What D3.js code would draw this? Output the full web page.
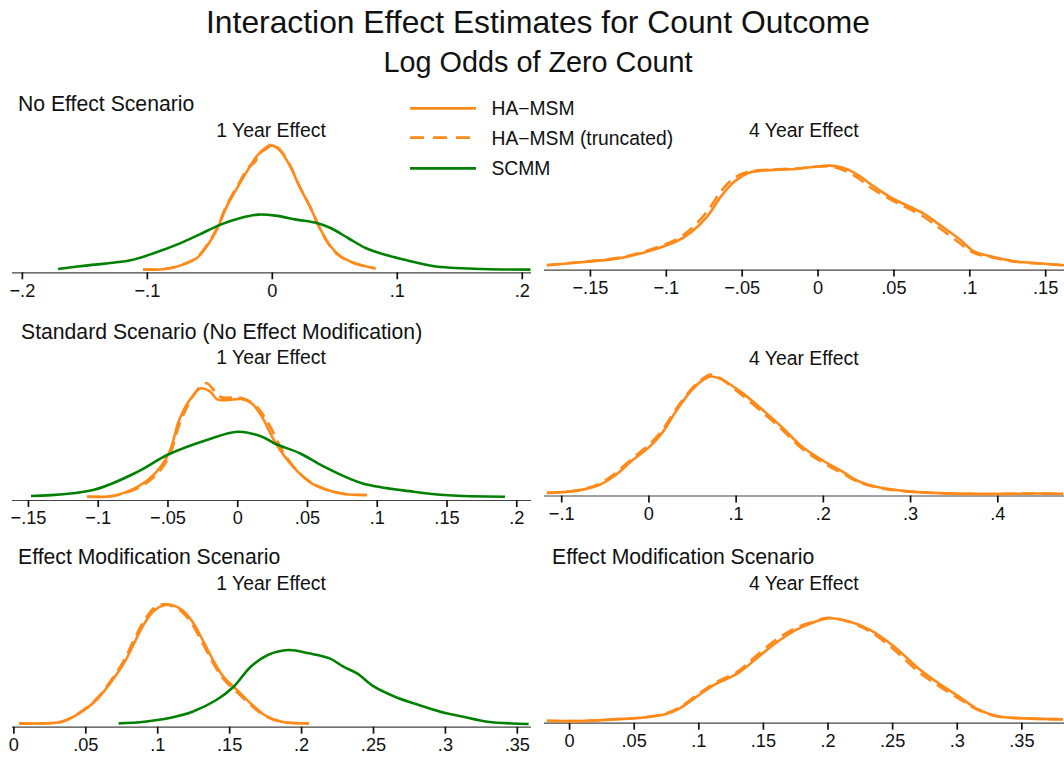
<!DOCTYPE html>
<html><head><meta charset="utf-8">
<script src="https://cdn.jsdelivr.net/npm/d3@7"></script>
<style>
body{margin:0;background:#fff}
svg{display:block}
text{font-family:"Liberation Sans",Arial,Helvetica,sans-serif;fill:#111}
</style>
</head><body>
<svg id="chart" width="1064" height="757"></svg>
<script>
// ---------------- DATA ----------------
const chartTitle = "Interaction Effect Estimates for Count Outcome";
const chartSubtitle = "Log Odds of Zero Count";
const seriesNames = ["HA\u2212MSM", "HA\u2212MSM (truncated)", "SCMM"];
const scenarioTitles = ["No Effect Scenario", "Standard Scenario (No Effect Modification)", "Effect Modification Scenario"];
const effectTitles = ["1 Year Effect", "4 Year Effect"];

// tick values per panel
const ticksNoEff1 = [-0.2, -0.1, 0, 0.1, 0.2];
const ticksNoEff4 = [-0.15, -0.1, -0.05, 0, 0.05, 0.1, 0.15];
const ticksStd1 = [-0.15, -0.1, -0.05, 0, 0.05, 0.1, 0.15, 0.2];
const ticksStd4 = [-0.1, 0, 0.1, 0.2, 0.3, 0.4];
const ticksMod1 = [0, 0.05, 0.1, 0.15, 0.2, 0.25, 0.3, 0.35];
const ticksMod4 = [0, 0.05, 0.1, 0.15, 0.2, 0.25, 0.3, 0.35];

// kernel density estimates: [estimate, density]
const noEff1_msm = [[-0.103,0.27],[-0.085,0.33],[-0.071,0.77],[-0.060,1.43],[-0.052,2.6],[-0.044,4.27],[-0.036,6.6],[-0.027,8.6],[-0.019,10.27],[-0.011,11.77],[-0.0054,12.27],[0.0,12.67],[0.0058,12.27],[0.014,10.77],[0.022,8.6],[0.031,6.43],[0.039,4.27],[0.047,2.6],[0.055,1.6],[0.066,0.93],[0.083,0.37]];
const noEff1_trunc = [[-0.103,0.27],[-0.085,0.35],[-0.071,0.8],[-0.060,1.5],[-0.052,2.7],[-0.044,4.4],[-0.036,6.75],[-0.027,8.75],[-0.019,10.45],[-0.013,11.1],[-0.011,11.8],[-0.0054,12.4],[0.0,12.8],[0.0058,12.35],[0.014,10.85],[0.022,8.65],[0.031,6.45],[0.039,4.25],[0.047,2.55],[0.055,1.55],[0.066,0.9],[0.083,0.37]];
const noEff1_scmm = [[-0.171,0.33],[-0.149,0.67],[-0.113,1.2],[-0.094,1.93],[-0.074,2.87],[-0.058,3.77],[-0.041,4.77],[-0.025,5.43],[-0.011,5.77],[0.003,5.67],[0.0195,5.27],[0.036,4.93],[0.047,4.43],[0.061,3.43],[0.075,2.43],[0.086,1.93],[0.108,1.2],[0.130,0.6],[0.169,0.33],[0.207,0.27]];

const noEff4_msm = [[-0.1784,0.27],[-0.1559,0.46],[-0.1334,0.67],[-0.1154,1.04],[-0.0929,1.77],[-0.0839,2.29],[-0.0726,3.33],[-0.0636,4.58],[-0.0546,5.52],[-0.0457,6.04],[-0.0367,6.19],[-0.0142,6.29],[0.0083,6.5],[0.0173,6.35],[0.0263,5.94],[0.0353,5.31],[0.0488,4.48],[0.0578,4.06],[0.0691,3.54],[0.0803,2.81],[0.0938,1.88],[0.1028,1.15],[0.1141,0.83],[0.1298,0.52],[0.1478,0.38],[0.1624,0.27]];
const noEff4_trunc = [[-0.1784,0.28],[-0.1559,0.48],[-0.1334,0.7],[-0.1154,1.1],[-0.0929,1.9],[-0.0839,2.5],[-0.0726,3.65],[-0.0636,4.9],[-0.0546,5.75],[-0.0457,6.12],[-0.0367,6.22],[-0.0142,6.32],[0.0083,6.45],[0.0173,6.2],[0.0263,5.75],[0.0353,5.1],[0.0488,4.35],[0.0578,3.92],[0.0691,3.35],[0.0803,2.6],[0.0938,1.65],[0.1028,1.05],[0.1141,0.78],[0.1298,0.5],[0.1478,0.37],[0.1624,0.27]];

const std1_msm = [[-0.1077,0.33],[-0.0885,0.43],[-0.0712,1.33],[-0.0589,2.67],[-0.049,4.67],[-0.0416,8.0],[-0.0341,10.0],[-0.026,11.17],[-0.0194,10.83],[-0.0144,10.07],[-0.007,10.0],[0.0029,10.1],[0.0103,9.67],[0.0177,8.33],[0.0276,5.67],[0.04,3.33],[0.0523,1.77],[0.0646,1.0],[0.077,0.6],[0.093,0.5]];
const std1_trunc = [[-0.1077,0.33],[-0.0885,0.43],[-0.0712,1.2],[-0.0589,2.4],[-0.049,4.3],[-0.0416,7.5],[-0.0341,9.8],[-0.0268,11.3],[-0.0218,11.67],[-0.0169,11.0],[-0.0119,10.3],[0.0029,10.2],[0.0128,9.5],[0.0226,7.6],[0.0325,4.9],[0.0424,3.0],[0.0523,1.8],[0.0646,1.0],[0.077,0.6],[0.093,0.5]];
const std1_scmm = [[-0.1478,0.4],[-0.1033,1.0],[-0.0712,2.83],[-0.0502,4.5],[-0.0218,6.0],[0.0004,6.83],[0.0177,6.33],[0.0276,5.6],[0.0449,4.67],[0.0622,3.33],[0.0894,1.67],[0.1264,0.83],[0.1511,0.47],[0.1919,0.33]];

const std4_msm = [[-0.1164,0.13],[-0.0851,0.22],[-0.0578,0.5],[-0.0383,1.0],[-0.0187,1.75],[0.0008,2.42],[0.0164,3.17],[0.0321,4.25],[0.0477,5.17],[0.0594,5.67],[0.0711,5.95],[0.0828,5.83],[0.1063,5.17],[0.1297,4.33],[0.1531,3.42],[0.1766,2.42],[0.2,1.75],[0.2235,1.17],[0.239,0.75],[0.2625,0.42],[0.2938,0.22],[0.3328,0.12],[0.372,0.08],[0.411,0.08],[0.442,0.1],[0.4755,0.08]];
const std4_trunc = [[-0.1164,0.13],[-0.0851,0.23],[-0.0578,0.55],[-0.0383,1.1],[-0.0187,1.85],[0.0008,2.55],[0.0164,3.3],[0.0321,4.35],[0.0477,5.25],[0.0594,5.75],[0.0711,6.05],[0.0828,5.85],[0.1063,5.05],[0.1297,4.2],[0.1531,3.3],[0.1766,2.32],[0.2,1.65],[0.2235,1.08],[0.239,0.7],[0.2625,0.4],[0.2938,0.22],[0.3328,0.12],[0.372,0.08],[0.411,0.08],[0.442,0.1],[0.4755,0.08]];

const mod1_msm = [[0.004,0.44],[0.0195,0.44],[0.0339,0.67],[0.0458,1.78],[0.0577,3.56],[0.0672,5.78],[0.0768,8.44],[0.0839,11.1],[0.0911,13.78],[0.0983,15.56],[0.1054,16.22],[0.1102,16.22],[0.1173,15.56],[0.1245,14.0],[0.1316,11.56],[0.1388,8.89],[0.1459,6.67],[0.1555,4.89],[0.165,3.11],[0.1746,1.56],[0.1865,0.67],[0.2055,0.44]];
const mod1_trunc = [[0.004,0.44],[0.0195,0.44],[0.0339,0.7],[0.0458,1.85],[0.0577,3.7],[0.0672,6.0],[0.0768,8.8],[0.0839,11.6],[0.0911,14.2],[0.0983,15.9],[0.1054,16.35],[0.1102,16.1],[0.1173,15.3],[0.1245,13.6],[0.1316,11.1],[0.1388,8.5],[0.1459,6.4],[0.1555,4.6],[0.165,2.9],[0.1746,1.45],[0.1865,0.64],[0.2055,0.44]];
const mod1_scmm = [[0.0732,0.44],[0.0911,0.67],[0.1102,1.24],[0.1245,2.0],[0.1411,3.56],[0.1531,5.33],[0.165,8.0],[0.1769,9.56],[0.1913,10.22],[0.2055,9.78],[0.2199,9.11],[0.2294,8.0],[0.2389,7.11],[0.2508,5.33],[0.2652,4.0],[0.2819,2.89],[0.301,1.78],[0.3129,1.33],[0.3296,0.67],[0.3582,0.36]];

const mod4_msm = [[-0.0172,0.125],[0.0092,0.1],[0.0355,0.21],[0.0567,0.31],[0.0751,0.54],[0.0857,0.9],[0.0988,1.63],[0.112,2.35],[0.1305,3.08],[0.1437,3.92],[0.1595,4.96],[0.1753,5.79],[0.1885,6.25],[0.2003,6.52],[0.2175,6.31],[0.2333,5.79],[0.2517,4.75],[0.2702,3.4],[0.286,2.46],[0.3018,1.63],[0.315,0.9],[0.3308,0.42],[0.352,0.27],[0.3822,0.21]];
const mod4_trunc = [[-0.0172,0.125],[0.0092,0.1],[0.0355,0.22],[0.0567,0.33],[0.0751,0.58],[0.0857,0.97],[0.0988,1.72],[0.112,2.45],[0.1305,3.2],[0.1437,4.1],[0.1595,5.15],[0.1753,5.92],[0.1885,6.3],[0.2003,6.55],[0.2175,6.28],[0.2333,5.68],[0.2517,4.55],[0.2702,3.2],[0.286,2.3],[0.3018,1.5],[0.315,0.85],[0.3308,0.4],[0.352,0.27],[0.3822,0.21]];

// ---------------- LAYOUT / STYLE ----------------
const W = 1064, H = 757;
const colOrange = "#ff8a1a", colGreen = "#008000";
const lineW = 2.6;
const plotH = 132;

const panels = [
  {row:0,col:0, scen:scenarioTitles[0], eff:effectTitles[0], dom:[-0.2083,0.207], ticks:ticksNoEff1, yMax:13.2, axisY:272.3, scenY:110.5, effY:136.5,
   series:[noEff1_msm, noEff1_trunc, noEff1_scmm]},
  {row:0,col:1, scen:null, eff:effectTitles[1], dom:[-0.1806,0.1624], ticks:ticksNoEff4, yMax:8.25, axisY:269.6, effY:137,
   series:[noEff4_msm, noEff4_trunc, null]},
  {row:1,col:0, scen:scenarioTitles[1], eff:effectTitles[0], dom:[-0.1618,0.2102], ticks:ticksStd1, yMax:13.2, axisY:500, scenY:339, effY:363.5, scenX:21,
   series:[std1_msm, std1_trunc, std1_scmm]},
  {row:1,col:1, scen:null, eff:effectTitles[1], dom:[-0.1203,0.4765], ticks:ticksStd4, yMax:6.6, axisY:495.5, effY:365,
   series:[std4_msm, std4_trunc, null]},
  {row:2,col:0, scen:scenarioTitles[2], eff:effectTitles[0], dom:[-0.0013,0.3595], ticks:ticksMod1, yMax:17.6, axisY:726.7, scenY:564, effY:590,
   series:[mod1_msm, mod1_trunc, mod1_scmm]},
  {row:2,col:1, scen:scenarioTitles[2], eff:effectTitles[1], dom:[-0.0198,0.383], ticks:ticksMod4, yMax:8.25, axisY:722.7, scenY:564, effY:590,
   series:[mod4_msm, mod4_trunc, null]}
];
const colX = [[11.5,530.5],[543.5,1064]];

const fmtTick = v => {
  if (v === 0) return "0";
  let s = String(+v.toFixed(3));
  s = s.replace("0.", ".").replace("-", "\u2212");
  return s;
};

const svg = d3.select("#chart");
svg.append("rect").attr("width",W).attr("height",H).attr("fill","#fff");

svg.append("text").attr("x",538).attr("y",32.5).attr("text-anchor","middle")
  .attr("font-size",31.8).text(chartTitle);
svg.append("text").attr("x",538).attr("y",72).attr("text-anchor","middle")
  .attr("font-size",28.8).text(chartSubtitle);

const styles = [
  {stroke:colOrange, dash:null},
  {stroke:colOrange, dash:"13,7"},
  {stroke:colGreen, dash:null}
];

panels.forEach(p => {
  const [x0,x1] = colX[p.col];
  const x = d3.scaleLinear().domain(p.dom).range([x0,x1]);
  const y = d3.scaleLinear().domain([0,p.yMax]).range([p.axisY, p.axisY - plotH]);
  const g = svg.append("g");

  const axis = d3.axisBottom(x).tickValues(p.ticks).tickFormat(fmtTick)
    .tickSize(7).tickSizeOuter(0).tickPadding(4.5);
  const ag = g.append("g").attr("transform",`translate(0,${p.axisY})`).call(axis);
  ag.select(".domain").attr("stroke","#444").attr("stroke-width",1.2);
  ag.selectAll(".tick line").attr("stroke","#111").attr("stroke-width",1.7);
  ag.selectAll(".tick text").attr("font-size",18.2)
    .attr("font-family",'"Liberation Sans",Arial,sans-serif').attr("fill","#111");

  const line = d3.line().x(d=>x(d[0])).y(d=>y(d[1])).curve(d3.curveCatmullRom.alpha(0.5));
  p.series.forEach((s,i) => {
    if (!s) return;
    g.append("path").datum(s).attr("d",line)
      .attr("fill","none").attr("stroke",styles[i].stroke)
      .attr("stroke-width",lineW).attr("stroke-linejoin","round")
      .attr("stroke-dasharray",styles[i].dash);
  });

  if (p.scen) {
    g.append("text").attr("x", p.scenX || (p.col===0 ? 18 : 552)).attr("y",p.scenY)
      .attr("font-size",21.2).text(p.scen);
  }
  g.append("text").attr("x",(x0+x1)/2).attr("y",p.effY).attr("text-anchor","middle")
    .attr("font-size",19.4).text(p.eff);
});

// legend
const legY = [108.3, 137.7, 168.3];
const leg = svg.append("g");
seriesNames.forEach((n,i) => {
  leg.append("line").attr("x1",410).attr("x2",476).attr("y1",legY[i]).attr("y2",legY[i])
    .attr("stroke",styles[i].stroke).attr("stroke-width",lineW+0.2)
    .attr("stroke-dasharray",styles[i].dash ? "14,9" : null);
  leg.append("text").attr("x",491.5).attr("y",legY[i]+7).attr("font-size",19.3).text(n);
});
</script>
</body></html>
